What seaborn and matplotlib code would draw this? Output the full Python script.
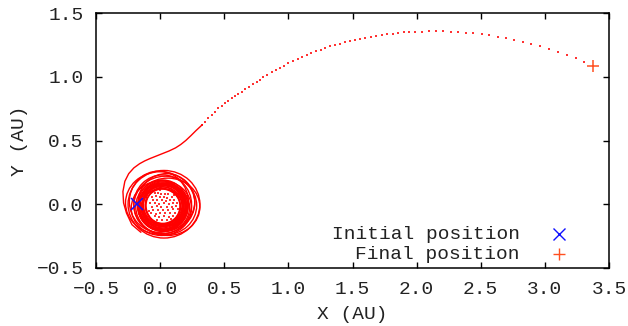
import matplotlib
matplotlib.use("Agg")
import matplotlib.pyplot as plt
from matplotlib.patches import Ellipse
from matplotlib.ticker import FuncFormatter
import pandas as pd
import seaborn as sns

# ---- captured phase: orbital loops around the origin (AU) ----
loop_cx = [0.020, 0.030, 0.010, 0.025, 0.015, 0.020, 0.030, 0.010, 0.025, 0.020,
           0.015, 0.020, 0.030, 0.035, 0.005, 0.020, 0.012, 0.028, 0.018, 0.024,
           0.030, 0.040, 0.000, 0.050, 0.010, 0.020, 0.060, -0.010]
loop_cy = [-0.015, -0.010, -0.020, -0.005, -0.025, -0.015, -0.010, -0.020, -0.005, -0.015,
           -0.020, -0.010, -0.025, 0.000, -0.020, -0.030, -0.012, -0.018, -0.008, -0.022,
           0.000, -0.010, 0.010, 0.020, -0.030, 0.000, -0.020, 0.020]
loop_w = [0.27, 0.28, 0.30, 0.31, 0.32, 0.33, 0.34, 0.35, 0.36, 0.37,
          0.38, 0.39, 0.40, 0.30, 0.34, 0.37, 0.29, 0.33, 0.36, 0.39,
          0.56, 0.49, 0.54, 0.44, 0.47, 0.45, 0.50, 0.46]
loop_h = [0.27, 0.29, 0.28, 0.31, 0.30, 0.34, 0.32, 0.36, 0.34, 0.38,
          0.36, 0.40, 0.38, 0.33, 0.37, 0.35, 0.30, 0.35, 0.38, 0.37,
          0.53, 0.46, 0.49, 0.44, 0.43, 0.46, 0.45, 0.48]

# fast passes through the core, sampled points (AU)
core_x = [-0.040, -0.014, 0.004, 0.038, 0.064, -0.066, -0.030, -0.004, 0.027, 0.053,
          0.092, -0.055, -0.022, 0.014, 0.046, 0.080, 0.105, -0.079, -0.038, -0.006,
          0.030, 0.066, 0.098, 0.129, -0.064, -0.027, 0.008, 0.051, 0.090, 0.122,
          -0.052, -0.014, 0.020, 0.062, 0.103, -0.068, -0.034, 0.002, 0.038, 0.077,
          0.116, -0.040, -0.006, 0.030, 0.072, 0.101, -0.027, 0.012, 0.051, 0.088,
          -0.090, 0.140, 0.000, 0.110]
core_y = [0.088, 0.090, 0.080, 0.084, 0.078, 0.058, 0.062, 0.056, 0.060, 0.052,
          0.056, 0.034, 0.030, 0.036, 0.028, 0.034, 0.030, 0.006, 0.010, 0.004,
          0.008, 0.002, 0.006, 0.010, -0.020, -0.016, -0.022, -0.018, -0.024, -0.016,
          -0.046, -0.042, -0.048, -0.044, -0.040, -0.070, -0.074, -0.068, -0.072, -0.066,
          -0.070, -0.096, -0.100, -0.094, -0.098, -0.092, -0.122, -0.126, -0.120, -0.118,
          -0.050, -0.040, 0.110, 0.070]

# ---- escape: continuous leg leaving the loops ----
esc_x = [-0.15, -0.22, -0.262, -0.285, -0.290, -0.275, -0.245, -0.205, -0.160, -0.120,
         -0.080, -0.030, 0.020, 0.070, 0.120, 0.160, 0.200, 0.240, 0.280, 0.310, 0.330]
esc_y = [-0.22, -0.16, -0.070, 0.010, 0.100, 0.180, 0.240, 0.285, 0.318, 0.340,
         0.358, 0.378, 0.398, 0.418, 0.442, 0.468, 0.500, 0.538, 0.578, 0.606, 0.625]

# ---- escape: sampled positions along the outgoing arc ----
arc_x = [0.324, 0.350, 0.376, 0.402, 0.428, 0.453, 0.479, 0.505, 0.531, 0.557,
         0.583, 0.609, 0.635, 0.661, 0.695, 0.721, 0.752, 0.778, 0.804, 0.835,
         0.869, 0.903, 0.934, 0.968, 0.999, 1.038, 1.072, 1.108, 1.142, 1.178,
         1.215, 1.251, 1.287, 1.324, 1.363, 1.402, 1.438, 1.480, 1.519, 1.558,
         1.599, 1.641, 1.682, 1.727, 1.771, 1.812, 1.856, 1.901, 1.942, 1.986,
         2.039, 2.095, 2.150, 2.207, 2.265, 2.324, 2.384, 2.441, 2.506, 2.565,
         2.631, 2.696, 2.760, 2.826, 2.890, 2.961, 3.031, 3.099, 3.169, 3.239,
         3.306]
arc_y = [0.622, 0.648, 0.674, 0.700, 0.726, 0.752, 0.771, 0.792, 0.812, 0.831,
         0.849, 0.865, 0.883, 0.901, 0.922, 0.941, 0.961, 0.975, 0.995, 1.014,
         1.035, 1.053, 1.071, 1.087, 1.105, 1.124, 1.139, 1.155, 1.171, 1.186,
         1.199, 1.212, 1.225, 1.239, 1.249, 1.259, 1.270, 1.280, 1.291, 1.299,
         1.307, 1.314, 1.322, 1.327, 1.333, 1.338, 1.343, 1.348, 1.351, 1.353,
         1.353, 1.356, 1.356, 1.356, 1.353, 1.351, 1.346, 1.341, 1.333, 1.325,
         1.314, 1.302, 1.288, 1.273, 1.257, 1.239, 1.218, 1.194, 1.171, 1.145,
         1.116]

initial_pos = (-0.18, 0.005)
final_pos = (3.374, 1.084)
legend_labels = ["Initial position", "Final position"]

x_ticks = [-0.5, 0.0, 0.5, 1.0, 1.5, 2.0, 2.5, 3.0, 3.5]
y_ticks = [-0.5, 0.0, 0.5, 1.0, 1.5]

RED = "#ff0000"
BLUE = "#1010ff"
ORANGE = "#ff5020"
TEXT = "#222222"
FS = 14

sns.set_theme(style="ticks")
plt.rcParams["font.family"] = ["Liberation Mono", "DejaVu Sans Mono"]
plt.rcParams["font.size"] = FS

fig = plt.figure(figsize=(6.28, 3.26), dpi=100)
ax = fig.add_axes([96 / 628, 1 - 268 / 326, 513 / 628, 255 / 326])

# orbital loops
for cx, cy, w, h in zip(loop_cx, loop_cy, loop_w, loop_h):
    ax.add_patch(Ellipse((cx, cy), w, h, fill=False, edgecolor=RED, lw=1.0))

sns.scatterplot(x=core_x, y=core_y, ax=ax, color=RED, marker="s", s=2.5,
                linewidth=0, alpha=0.8)

esc = pd.DataFrame({"x": esc_x, "y": esc_y})
sns.lineplot(data=esc, x="x", y="y", ax=ax, sort=False, estimator=None,
             color=RED, lw=1.0)

sns.scatterplot(x=arc_x, y=arc_y, ax=ax, color=RED, marker="s", s=4,
                linewidth=0, alpha=0.8)

ax.plot(*initial_pos, marker="x", ms=8, mew=1.1, color=BLUE, ls="none")
ax.plot(*final_pos, marker="+", ms=9, mew=1.1, color=ORANGE, ls="none")

# key in the lower right corner, text right-aligned next to its symbol
for i, (lab, mk, col) in enumerate(zip(legend_labels, ["x", "+"], [BLUE, ORANGE])):
    yk = 0.133 - i * 0.079
    ax.text(0.8265, yk, lab, transform=ax.transAxes, ha="right", va="center",
            fontsize=FS, color=TEXT)
    ax.plot([0.9025], [yk], transform=ax.transAxes, marker=mk, ms=8, mew=1.0,
            color=col, ls="none")

ax.set_xlim(-0.5, 3.5)
ax.set_ylim(-0.5, 1.5)
ax.set_xticks(x_ticks)
ax.set_yticks(y_ticks)
fmt = FuncFormatter(lambda v, p: f"{v:.1f}".replace("-", "\u2212"))
ax.xaxis.set_major_formatter(fmt)
ax.yaxis.set_major_formatter(fmt)
ax.tick_params(direction="in", length=4, width=1.0, color="black",
               top=True, right=True, labelsize=FS, labelcolor=TEXT, pad=9)
for sp in ax.spines.values():
    sp.set_visible(True)
    sp.set_color("black")
    sp.set_linewidth(1.1)

ax.set_xlabel("X (AU)", fontsize=FS, color=TEXT, labelpad=6)
ax.set_ylabel("Y (AU)", fontsize=FS, color=TEXT, labelpad=6)

fig.savefig("out.png", dpi=100)
